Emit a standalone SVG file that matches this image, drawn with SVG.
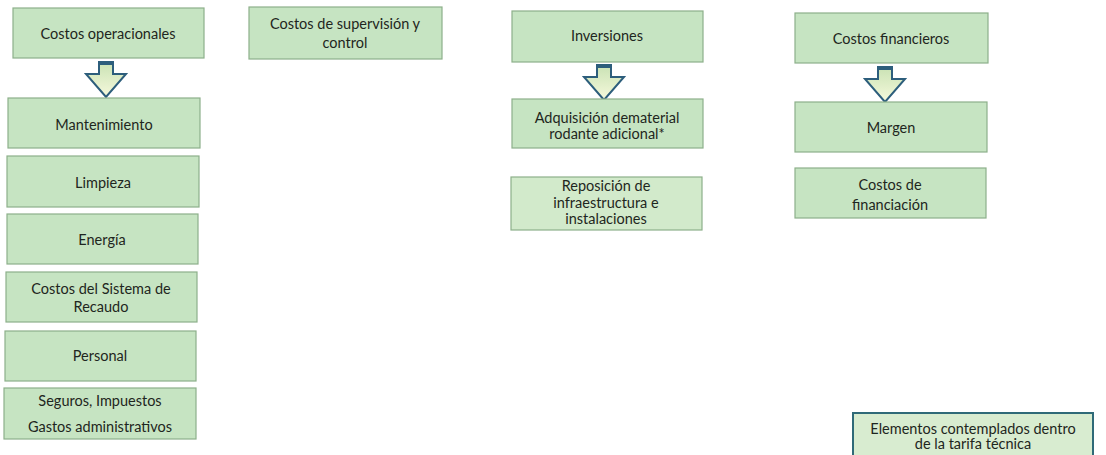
<svg xmlns="http://www.w3.org/2000/svg" width="1106" height="455" viewBox="0 0 1106 455">
<defs>
<style>
.box{fill:#c6e4c2;stroke:#8db08a;stroke-width:1.2}
.t{font-family:Lato,"Open Sans","Liberation Sans",sans-serif;font-size:14.5px;fill:#1e2620;text-anchor:middle;dominant-baseline:central}
.arr{fill:url(#ag);stroke:#2d5e7c;stroke-width:2;stroke-linejoin:miter}
.band{fill:#2d5e7c}
.leg{fill:#d8ecd0;stroke:#2f6a78;stroke-width:2}
</style>
<linearGradient id="ag" x1="0" y1="0" x2="0" y2="1">
<stop offset="0" stop-color="#c9e2b4"/>
<stop offset="1" stop-color="#f6f9dc"/>
</linearGradient>
<path id="arrow" d="M-7,0 H7 V12 H20 L0,35 L-20,12 H-7 Z"/>
</defs>
<rect width="1106" height="455" fill="#ffffff"/>

<g id="connectors">
<g transform="translate(106,62)"><use href="#arrow" class="arr"/><rect class="band" x="-7" y="-1" width="14" height="4"/></g>
<g transform="translate(604,65)"><use href="#arrow" class="arr"/><rect class="band" x="-7" y="-1" width="14" height="4"/></g>
<g transform="translate(885,67)"><use href="#arrow" class="arr"/><rect class="band" x="-7" y="-1" width="14" height="4"/></g>
</g>

<g id="costos-operacionales"><rect class="box" x="13" y="8" width="191" height="50"/><text class="t" x="108" y="33">Costos operacionales</text></g>
<g id="mantenimiento"><rect class="box" x="8" y="98" width="192" height="50"/><text class="t" x="104" y="124">Mantenimiento</text></g>
<g id="limpieza"><rect class="box" x="7" y="156" width="192" height="51"/><text class="t" x="103" y="182">Limpieza</text></g>
<g id="energia"><rect class="box" x="7" y="214" width="191" height="50"/><text class="t" x="102" y="239">Energía</text></g>
<g id="recaudo"><rect class="box" x="6" y="272" width="191" height="50"/><text class="t" x="101" y="288">Costos del Sistema de</text><text class="t" x="101" y="306">Recaudo</text></g>
<g id="personal"><rect class="box" x="5" y="331" width="191" height="50"/><text class="t" x="100" y="355">Personal</text></g>
<g id="seguros"><rect class="box" x="4" y="388" width="192" height="51"/><text class="t" x="100" y="400">Seguros, Impuestos</text><text class="t" x="100" y="426">Gastos administrativos</text></g>

<g id="supervision"><rect class="box" x="249" y="7" width="193" height="52"/><text class="t" x="345" y="23">Costos de supervisión y</text><text class="t" x="345" y="42">control</text></g>

<g id="inversiones"><rect class="box" x="512" y="11" width="191" height="51"/><text class="t" x="607" y="35">Inversiones</text></g>
<g id="adquisicion"><rect class="box" x="512" y="99" width="191" height="49"/><text class="t" x="607" y="117">Adquisición dematerial</text><text class="t" x="607" y="133">rodante adicional*</text></g>
<g id="reposicion"><rect class="box" x="511" y="177" width="191" height="53" style="fill:#d2eacb"/><text class="t" x="606" y="185">Reposición de</text><text class="t" x="606" y="202">infraestructura e</text><text class="t" x="606" y="218">instalaciones</text></g>

<g id="costos-financieros"><rect class="box" x="795" y="13" width="193" height="50"/><text class="t" x="891" y="38">Costos financieros</text></g>
<g id="margen"><rect class="box" x="795" y="102" width="192" height="50"/><text class="t" x="891" y="127">Margen</text></g>
<g id="financiacion"><rect class="box" x="795" y="168" width="191" height="50"/><text class="t" x="890" y="184">Costos de</text><text class="t" x="890" y="204">financiación</text></g>

<g id="leyenda"><rect class="leg" x="853" y="413" width="240" height="46"/><text class="t" x="973" y="428">Elementos contemplados dentro</text><text class="t" x="973" y="443">de la tarifa técnica</text></g>
</svg>
